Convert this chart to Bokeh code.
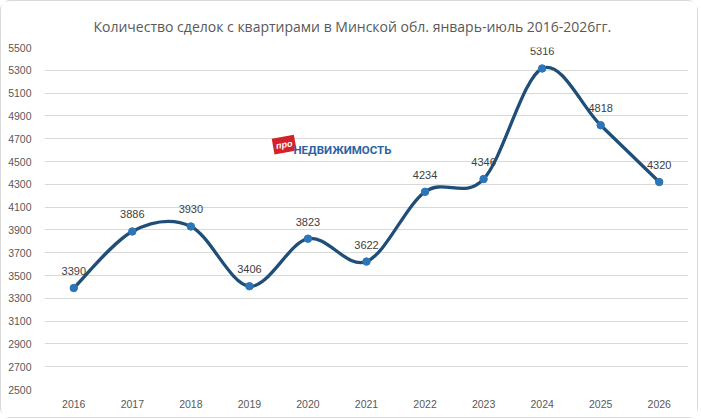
from bokeh.plotting import figure
from bokeh.models import Range1d, FixedTicker, Label, ColumnDataSource
from bokeh.embed import file_html
from bokeh.resources import INLINE

# ---- data ----
years = ["2016", "2017", "2018", "2019", "2020", "2021", "2022", "2023", "2024", "2025", "2026"]
deals = [3390, 3886, 3930, 3406, 3823, 3622, 4234, 4346, 5316, 4818, 4320]
y_ticks = list(range(2500, 5501, 200))
title_text = "Количество сделок с квартирами в Минской обл. январь-июль 2016-2026гг."

LINE = "#1f4e79"
MARK = "#2e75b6"
TICK_COLOR = "#595959"
LABEL_COLOR = "#404040"
GRID = "#d9d9d9"

xs = list(range(len(years)))

p = figure(width=698, height=418, output_backend="svg", toolbar_location=None,
           x_range=Range1d(-0.5, len(years) - 0.5), y_range=Range1d(2500, 5500),
           min_border_left=43, min_border_right=11, min_border_top=46, min_border_bottom=30)
p.styles = {"border": "1px solid #d9d9d9", "border-radius": "10px"}
p.background_fill_color = "white"
p.border_fill_color = "white"
p.outline_line_color = None

p.title.text = title_text
p.title.align = "left"
p.title.offset = 49
p.title.vertical_align = "bottom"
p.title.text_font = "Open Sans"
p.title.text_font_size = "14px"
p.title.text_font_style = "normal"
p.title.text_color = "#595959"
p.title.standoff = 24

# axes
p.xaxis.ticker = FixedTicker(ticks=xs)
p.xaxis.major_label_overrides = {i: y for i, y in enumerate(years)}
p.yaxis.ticker = FixedTicker(ticks=y_ticks)
for ax in (p.xaxis[0], p.yaxis[0]):
    ax.axis_line_color = None
    ax.major_tick_line_color = None
    ax.minor_tick_line_color = None
    ax.major_tick_out = 0
    ax.major_tick_in = 0
    ax.minor_tick_out = 0
    ax.major_label_text_color = TICK_COLOR
    ax.major_label_text_font = "Liberation Sans"
    ax.major_label_text_font_size = "10.5px"
p.xaxis.major_label_standoff = 10
p.yaxis.major_label_standoff = 13
p.xgrid.grid_line_color = None
p.ygrid.grid_line_color = GRID
p.ygrid.ticker = FixedTicker(ticks=y_ticks)

# smooth curve (Catmull-Rom style bezier between data points)
n = len(deals)
x0, y0, x1, y1, cx0, cy0, cx1, cy1 = [], [], [], [], [], [], [], []
for i in range(n - 1):
    im1 = max(i - 1, 0)
    ip2 = min(i + 2, n - 1)
    x0.append(xs[i]); y0.append(deals[i])
    x1.append(xs[i + 1]); y1.append(deals[i + 1])
    cx0.append(xs[i] + (xs[i + 1] - xs[im1]) / 6)
    cy0.append(deals[i] + (deals[i + 1] - deals[im1]) / 6)
    cx1.append(xs[i + 1] - (xs[ip2] - xs[i]) / 6)
    cy1.append(deals[i + 1] - (deals[ip2] - deals[i]) / 6)
p.bezier(x0=x0, y0=y0, x1=x1, y1=y1, cx0=cx0, cy0=cy0, cx1=cx1, cy1=cy1,
         line_color=LINE, line_width=3.3)

src = ColumnDataSource(dict(x=xs, y=deals, lab=[str(v) for v in deals]))
p.scatter("x", "y", source=src, size=7.5, fill_color=MARK, line_color=MARK)
p.text("x", "y", text="lab", source=src, text_align="center", text_baseline="middle",
       y_offset=-17, text_font_size="11px", text_color=LABEL_COLOR,
       text_font={"value": "Liberation Sans"})

# logo (decoration, frame-relative screen units)
p.add_layout(Label(x=230, y=235, x_units="screen", y_units="screen", text="про",
                   text_color="white", text_font="Liberation Sans", text_font_style="bold italic",
                   text_font_size="9px", background_fill_color="#d3232a",
                   padding=3, angle=10, angle_units="deg"))
p.add_layout(Label(x=249, y=233, x_units="screen", y_units="screen", text="НЕДВИЖИМОСТЬ",
                   text_color="#2d62a3", text_font="Roboto",
                   text_font_style="bold", text_font_size="11.5px"))

open("out.html", "w").write(file_html(p, INLINE))
